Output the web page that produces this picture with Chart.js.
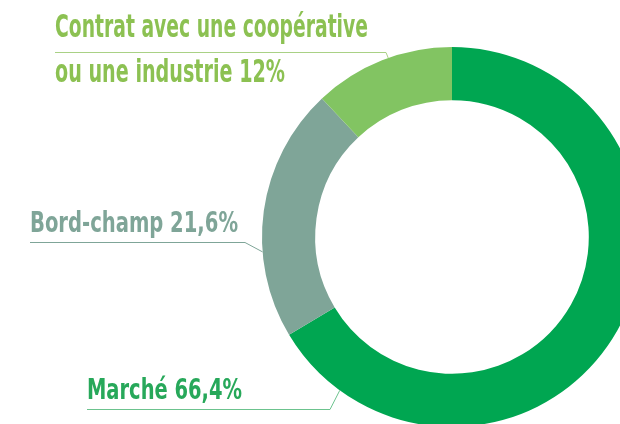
<!DOCTYPE html>
<html>
<head>
<meta charset="utf-8">
<script src="https://cdn.jsdelivr.net/npm/chart.js@4"></script>
<style>
  html, body { margin: 0; padding: 0; background: #fff; overflow: hidden; }
  #wrap { position: absolute; left: 0; top: 0; width: 660px; height: 440px; }
</style>
</head>
<body>
<div id="wrap"><canvas id="ring"></canvas></div>
<script>
// données
const categories = ['Marché', 'Bord-champ', ['Contrat avec une coopérative', 'ou une industrie']];
const shares = [66.4, 21.6, 12];
const sliceColors = ['#00a651', '#7fa598', '#82c462'];
const textColors = ['#27a85a', '#7fa598', '#8cc152'];
const lineColors = ['#6cc38e', '#7fa598', '#a9d185'];

// position des étiquettes (angle = point d'accroche sur l'anneau, en degrés)
const labelLayout = [
    { x: 87, baselines: [399], widths: [155], size: 29, lineY: 409, knee: 330, angle: 126.2 },
    { x: 30, baselines: [232], widths: [208], size: 28, lineY: 242, knee: 245, angle: 175.5 },
    { x: 55, baselines: [37, 82], widths: [313, 230], size: 32, lineY: 52, knee: 386, angle: 250.4 }
];

const fontFamily = "'Liberation Sans Narrow', 'DejaVu Sans Condensed', 'Roboto', sans-serif";

const labelPlugin = {
    id: 'labels',
    afterDraw(chart) {
        const ctx = chart.ctx;
        const arcs = chart.getDatasetMeta(0).data;
        categories.forEach((cat, i) => {
            const lay = labelLayout[i];
            const lines = Array.isArray(cat) ? cat.slice() : [cat];
            lines[lines.length - 1] += ' ' + shares[i].toLocaleString('fr-FR') + '%';

            ctx.save();
            ctx.fillStyle = textColors[i];
            ctx.font = 'bold ' + lay.size + 'px ' + fontFamily;
            ctx.textBaseline = 'alphabetic';
            lines.forEach((txt, k) => {
                const w = ctx.measureText(txt).width;
                const sx = lay.widths[k] / w;
                ctx.save();
                ctx.translate(lay.x, lay.baselines[k]);
                ctx.scale(sx, 1);
                ctx.fillText(txt, 0, 0);
                ctx.restore();
            });

            // trait de rappel
            const arc = arcs[i];
            const a = lay.angle * Math.PI / 180;
            const ex = arc.x + arc.outerRadius * Math.cos(a);
            const ey = arc.y + arc.outerRadius * Math.sin(a);
            ctx.strokeStyle = lineColors[i];
            ctx.lineWidth = 1;
            ctx.beginPath();
            ctx.moveTo(lay.x, lay.lineY + 0.5);
            ctx.lineTo(lay.knee, lay.lineY + 0.5);
            ctx.lineTo(ex, ey);
            ctx.stroke();
            ctx.restore();
        });
    }
};

const ctx = document.getElementById('ring').getContext('2d');
new Chart(ctx, {
    type: 'doughnut',
    data: {
        labels: categories,
        datasets: [{
            data: shares,
            backgroundColor: sliceColors,
            borderWidth: 0
        }]
    },
    options: {
        responsive: true,
        maintainAspectRatio: false,
        animation: false,
        cutout: '72%',
        layout: { padding: { left: 262, top: 47, right: 18, bottom: 13 } },
        plugins: {
            legend: { display: false },
            tooltip: { enabled: false }
        }
    },
    plugins: [labelPlugin]
});
</script>
</body>
</html>
